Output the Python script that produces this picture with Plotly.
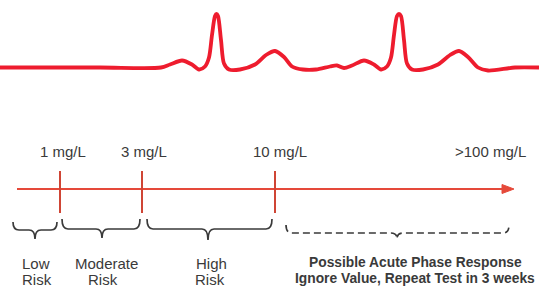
import plotly.graph_objects as go

# ---------------- data ----------------
threshold_labels = ["1 mg/L", "3 mg/L", "10 mg/L", ">100 mg/L"]
risk_top = ["Low", "Moderate", "High"]
risk_bottom = ["Risk", "Risk", "Risk"]
acute_lines = ["Possible Acute Phase Response", "Ignore Value, Repeat Test in 3 weeks"]

# ECG trace (pixel space)
ecg_x = [0, 100, 161, 170, 182, 192, 199, 205, 209, 212, 215, 216.5, 218, 221, 224, 229, 240,
         255, 266, 275, 284, 292, 303, 316, 330, 337, 344, 352, 364, 374, 381, 387, 391, 394,
         397, 399, 401, 404, 407, 412, 423, 438, 450, 459, 468, 478, 488, 515, 539]
ecg_y = [67.5, 67.5, 67.5, 64.5, 60.5, 64.5, 69.5, 66.5, 57.5, 35, 16, 14, 16, 40, 63.5, 69.5, 69.5,
         64.5, 55, 51, 57, 66.5, 69.5, 69.5, 66.5, 65.5, 68, 65.5, 60.5, 64.5, 69.5, 66.5, 57.5, 35,
         16, 14, 16, 40, 63.5, 69.5, 69.5, 64.5, 55, 51, 57, 67.5, 70.5, 67.5, 67.5]

# ---------------- layout positions (pixel space) ----------------
W, H = 539, 287
tick_x = [60, 142, 275]
label_x = [63, 144, 280, 490]
label_y = 151
axis_y = 189
axis_x0, axis_x1 = 17, 505
braces = [  # x0, x1, xc, ytop, ymid, ytip, dashed
    (13, 57, 35, 222, 230, 239, False),
    (62, 140, 102, 219, 229, 238, False),
    (147, 272, 208, 219, 229, 240, False),
    (286, 509, 397, 225, 233, 239, True),
]
risk_x = [36, 106, 211]
risk_x2 = [37, 103, 210]

RED = "#ee1c2e"
ORANGE = "#e5493a"
TICK = "#cf4535"
TXT = "#3a3a3a"
FONT = "Liberation Sans, Arial, sans-serif"

fig = go.Figure()

# ECG line
fig.add_trace(go.Scatter(x=ecg_x, y=ecg_y, mode="lines",
                         line=dict(color=RED, width=3.8, shape="spline", smoothing=0.8),
                         hoverinfo="skip", showlegend=False))

shapes = []
# axis line
shapes.append(dict(type="line", x0=axis_x0, x1=axis_x1, y0=axis_y, y1=axis_y,
                   line=dict(color=ORANGE, width=2)))
# arrow head
shapes.append(dict(type="path", path=f"M 502,{axis_y-4.5} L 514,{axis_y} L 502,{axis_y+4.5} Z",
                   fillcolor=ORANGE, line=dict(color=ORANGE, width=1)))
# ticks
for tx in tick_x:
    shapes.append(dict(type="line", x0=tx, x1=tx, y0=171, y1=213,
                       line=dict(color=TICK, width=2)))
# braces
for (x0, x1, xc, yt, ym, yb, dashed) in braces:
    r = 6
    p = (f"M {x0},{yt} Q {x0},{ym} {x0+r},{ym} L {xc-r},{ym} Q {xc},{ym} {xc},{yb} "
         f"Q {xc},{ym} {xc+r},{ym} L {x1-r},{ym} Q {x1},{ym} {x1},{yt}")
    shapes.append(dict(type="path", path=p,
                       line=dict(color=TXT, width=1.7, dash="7px,4px" if dashed else "solid")))

ann = []
for lab, lx in zip(threshold_labels, label_x):
    ann.append(dict(x=lx, y=label_y, text=lab, showarrow=False,
                    font=dict(family=FONT, size=15, color=TXT)))
for t, b, x1, x2 in zip(risk_top, risk_bottom, risk_x, risk_x2):
    ann.append(dict(x=x1, y=263, text=t, showarrow=False,
                    font=dict(family=FONT, size=15, color=TXT)))
    ann.append(dict(x=x2, y=279, text=b, showarrow=False,
                    font=dict(family=FONT, size=15, color=TXT)))
for line, yy in zip(acute_lines, [262, 278]):
    ann.append(dict(x=415, y=yy, text=f"<b>{line}</b>", showarrow=False,
                    font=dict(family=FONT, size=13.8, color=TXT)))

fig.update_layout(
    width=W, height=H, margin=dict(l=0, r=0, t=0, b=0),
    paper_bgcolor="white", plot_bgcolor="white",
    xaxis=dict(range=[0, W], visible=False, fixedrange=True),
    yaxis=dict(range=[H, 0], visible=False, fixedrange=True),
    shapes=shapes, annotations=ann, showlegend=False,
)

fig.write_html("out.html", config={"displayModeBar": False},
               post_script="document.body.style.margin='0';document.body.style.padding='0';"
                           "document.body.style.overflow='hidden';")
